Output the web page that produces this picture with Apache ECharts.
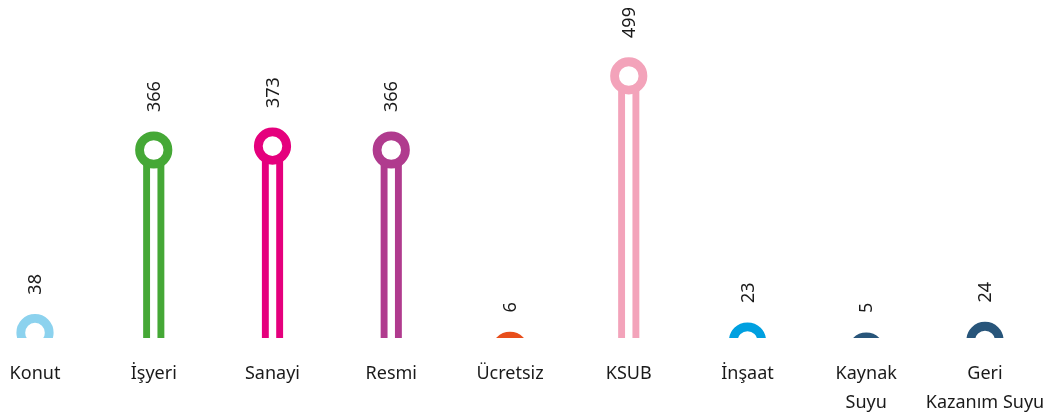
<!DOCTYPE html>
<html>
<head>
<meta charset="utf-8">
<script src="https://cdn.jsdelivr.net/npm/echarts@6/dist/echarts.min.js"></script>
<style>
html,body{margin:0;padding:0;background:#fff;}
#chart{width:1048px;height:418px;}
</style>
</head>
<body>
<div id="chart"></div>
<script>
const categories = ['Konut', 'İşyeri', 'Sanayi', 'Resmi', 'Ücretsiz', 'KSUB', 'İnşaat', 'Kaynak\nSuyu', 'Geri\nKazanım Suyu'];
const values = [38, 366, 373, 366, 6, 499, 23, 5, 24];
const colors = ['#8CD2EE', '#45A836', '#E5007D', '#B03B8E', '#E84E1B', '#F3A3BA', '#00A0E0', '#28557A', '#28557A'];

const FONT = '"Noto Sans", "Open Sans", sans-serif';

const chart = echarts.init(document.getElementById('chart'), null, {renderer: 'canvas'});

chart.setOption({
  backgroundColor: '#ffffff',
  animation: false,
  grid: {left: 35, right: 63, top: 0, bottom: 80},
  xAxis: {
    type: 'category',
    data: categories,
    boundaryGap: false,
    axisLine: {show: false},
    axisTick: {show: false},
    splitLine: {show: false},
    axisLabel: {
      interval: 0,
      margin: 21,
      color: '#1a1a1a',
      fontSize: 18,
      lineHeight: 29,
      fontFamily: FONT
    }
  },
  yAxis: {
    type: 'value',
    min: 28.4,
    max: 635.4,
    show: false,
    splitLine: {show: false}
  },
  series: [{
    type: 'custom',
    clip: false,
    data: values.map((v, i) => [i, v]),
    renderItem: function (params, api) {
      const idx = params.dataIndex;
      const cs = params.coordSys;
      const bottom = cs.y + cs.height;
      const p = api.coord([api.value(0), api.value(1)]);
      const c = colors[idx];
      const cx = p[0], cy = p[1];
      const stemW = 6.9, gap = 3.7;
      return {
        type: 'group',
        clipPath: {type: 'rect', shape: {x: cx - 50, y: 0, width: 100, height: bottom}},
        children: [
          {type: 'rect', shape: {x: cx - gap - stemW, y: cy, width: stemW, height: Math.max(0, bottom - cy)}, style: {fill: c}},
          {type: 'rect', shape: {x: cx + gap, y: cy, width: stemW, height: Math.max(0, bottom - cy)}, style: {fill: c}},
          {type: 'circle', shape: {cx: cx, cy: cy, r: 14.2}, style: {fill: '#ffffff', stroke: c, lineWidth: 8.8}},
          {type: 'text', x: cx + 1, y: cy - 38, rotation: Math.PI / 2,
            style: {text: String(values[idx]), align: 'left', verticalAlign: 'middle',
              font: '18px ' + FONT, fill: '#1a1a1a'}}
        ]
      };
    }
  }]
});
</script>
</body>
</html>
